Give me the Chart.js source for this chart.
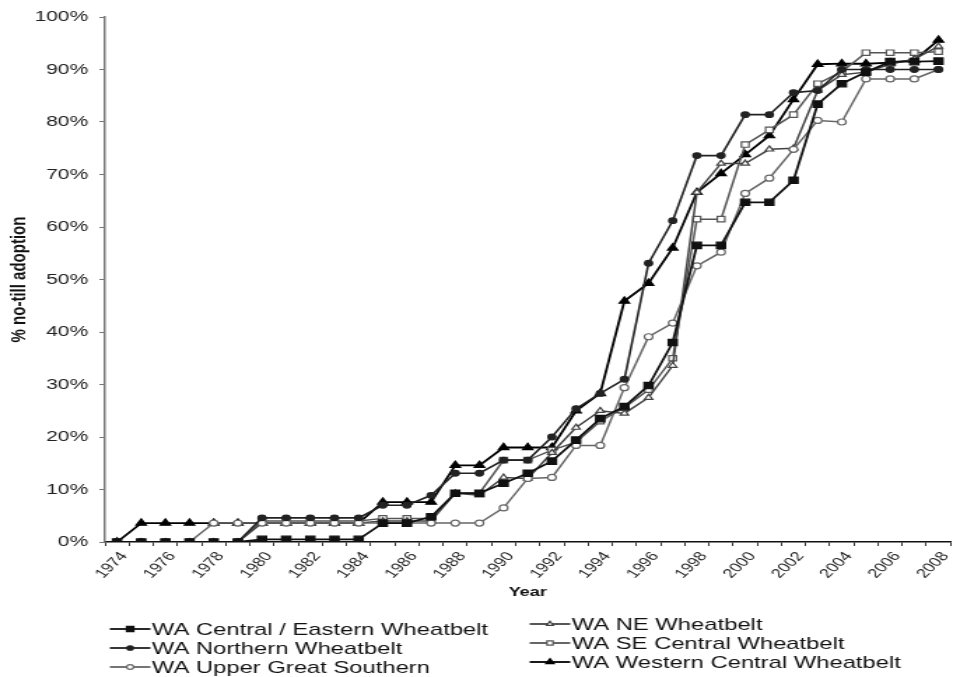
<!DOCTYPE html>
<html>
<head>
<meta charset="utf-8">
<script src="https://cdn.jsdelivr.net/npm/chart.js@4.4.1/dist/chart.umd.min.js"></script>
<style>
  html, body { margin: 0; padding: 0; background: #fff; overflow: hidden; }
  /* the scanned original is stretched sideways, so the chart is drawn narrow and widened */
  #wrap { width: 686px; height: 677px; transform: scaleX(1.3994); transform-origin: 0 0; }
</style>
</head>
<body>
<div id="wrap"><canvas id="chart-adoption"></canvas></div>
<script>
const years = ['1974', '1975', '1976', '1977', '1978', '1979', '1980', '1981', '1982', '1983', '1984',
  '1985', '1986', '1987', '1988', '1989', '1990', '1991', '1992', '1993', '1994', '1995', '1996',
  '1997', '1998', '1999', '2000', '2001', '2002', '2003', '2004', '2005', '2006', '2007', '2008'];

const yTicks = [0, 10, 20, 30, 40, 50, 60, 70, 80, 90, 100];

// % no-till adoption, 1974 - 2008
const centralEastern = [0, 0, 0, 0, 0, 0, 0.5, 0.5, 0.5, 0.5, 0.5, 3.6, 3.6, 4.8, 9.3, 9.3, 11.2, 13.1,
  15.4, 19.4, 23.5, 25.8, 29.8, 38, 56.5, 56.5, 64.7, 64.7, 68.9, 83.4, 87.3, 89.5, 91.5, 91.5, 91.6];
const northern = [0, 0, 0, 0, 0, 0, 4.6, 4.6, 4.6, 4.6, 4.6, 7.0, 7.0, 8.9, 13.1, 13.1, 15.6, 15.6,
  20, 25.4, 28.3, 31, 53.1, 61.2, 73.6, 73.6, 81.4, 81.4, 85.6, 86, 90, 90, 90, 90, 90];
const upperGreatSouthern = [0, 0, 0, 0, 3.6, 3.6, 3.6, 3.6, 3.6, 3.6, 3.6, 3.6, 3.6, 3.6, 3.6, 3.6, 6.5, 12.1,
  12.3, 18.4, 18.4, 29.4, 39.1, 41.7, 52.6, 55.2, 66.4, 69.3, 74.8, 80.3, 80, 88.2, 88.2, 88.2, 90];
const neWheatbelt = [0, 0, 0, 0, 0, 0, 3.6, 3.6, 3.6, 3.6, 3.6, 4.0, 4.0, 4.0, 9.3, 8.9, 12.3, 12.1,
  17, 21.8, 25, 24.5, 27.5, 33.6, 66.6, 72.1, 72.1, 74.8, 75, 86, 89, 89.5, 91, 92, 94.4];
const seCentral = [0, 0, 0, 0, 0, 0, 4.0, 4.0, 4.0, 4.0, 4.0, 4.5, 4.5, 4.5, 9.3, 9.3, 15.6, 15.6,
  17.5, 19, 23, 25.6, 29, 35, 61.5, 61.5, 75.7, 78.5, 81.4, 87.3, 89.6, 93.2, 93.2, 93.2, 93.4];
const westernCentral = [0, 3.6, 3.6, 3.6, 3.6, 3.6, 3.6, 3.6, 3.6, 3.6, 3.6, 7.6, 7.6, 7.6, 14.6, 14.6, 18, 18,
  18, 25, 28.3, 45.9, 49.3, 56, 66.6, 70.2, 73.8, 77.4, 84.3, 91, 91.1, 91.1, 91.3, 91.8, 95.6];

const seriesNames = ['WA Central / Eastern Wheatbelt', 'WA Northern Wheatbelt', 'WA Upper Great Southern',
  'WA NE Wheatbelt', 'WA SE Central Wheatbelt', 'WA Western Central Wheatbelt'];

const FONT = "'Liberation Sans', Arial, sans-serif";

const makeSeries = (label, data, line, style, radius, fill, width) => ({
  label,
  data,
  borderColor: line,
  borderWidth: width,
  tension: 0,
  pointStyle: style,
  pointRadius: radius,
  pointHoverRadius: radius,
  pointBackgroundColor: fill,
  pointBorderColor: line,
  pointBorderWidth: 1.2,
});

const drawMarker = (ctx, style, x, y, r, fill, stroke) => {
  ctx.beginPath();
  if (style === 'rect') {
    const s = r * Math.SQRT1_2;
    ctx.rect(x - s, y - s, 2 * s, 2 * s);
  } else if (style === 'triangle') {
    ctx.moveTo(x, y - r);
    ctx.lineTo(x + r * 0.866, y + r * 0.5);
    ctx.lineTo(x - r * 0.866, y + r * 0.5);
    ctx.closePath();
  } else {
    ctx.arc(x, y, r, 0, Math.PI * 2);
  }
  ctx.fillStyle = fill;
  ctx.fill();
  ctx.lineWidth = 1.2;
  ctx.strokeStyle = stroke;
  ctx.stroke();
};

// two-column legend under the axis, like the original
const columnLegend = {
  id: 'columnLegend',
  afterDraw(chart) {
    const ctx = chart.ctx;
    const spots = [
      [78.5, 629], [78.5, 648], [78.5, 667],
      [378.5, 624], [378.5, 643], [378.5, 662],
    ];
    ctx.save();
    chart.data.datasets.forEach((ds, i) => {
      const [x, y] = spots[i];
      ctx.beginPath();
      ctx.moveTo(x, y);
      ctx.lineTo(x + 29, y);
      ctx.lineWidth = 1.8;
      ctx.strokeStyle = ds.borderColor;
      ctx.stroke();
      drawMarker(ctx, ds.pointStyle, x + 14.5, y, ds.pointRadius * 0.8, ds.pointBackgroundColor, ds.pointBorderColor);
      ctx.fillStyle = '#111';
      ctx.font = `17px ${FONT}`;
      ctx.textBaseline = 'middle';
      ctx.textAlign = 'left';
      ctx.fillText(ds.label, x + 30, y + 1);
    });
    ctx.restore();
  },
};

const ctx = document.getElementById('chart-adoption').getContext('2d');

new Chart(ctx, {
  type: 'line',
  data: {
    labels: years,
    datasets: [
      makeSeries(seriesNames[0], centralEastern, '#111', 'rect', 4.5, '#111', 1.8),
      makeSeries(seriesNames[1], northern, '#222', 'circle', 2.8, '#222', 1.6),
      makeSeries(seriesNames[2], upperGreatSouthern, '#666', 'circle', 3, '#fff', 1.5),
      makeSeries(seriesNames[3], neWheatbelt, '#444', 'triangle', 3.4, '#fff', 1.5),
      makeSeries(seriesNames[4], seCentral, '#555', 'rect', 3.8, '#fff', 1.5),
      makeSeries(seriesNames[5], westernCentral, '#000', 'triangle', 4.2, '#000', 1.8),
    ],
  },
  options: {
    responsive: true,
    maintainAspectRatio: false,
    animation: false,
    events: [],
    layout: { padding: { top: 15, right: 5, left: 0, bottom: 0 } },
    plugins: {
      legend: { display: false },
      tooltip: { enabled: false },
    },
    scales: {
      x: {
        type: 'category',
        offset: true,
        afterFit: (scale) => { scale.height = 135; },
        border: { color: '#111', width: 1.5 },
        grid: { display: true, offset: true, drawOnChartArea: false, drawTicks: true, tickLength: 4, color: '#333' },
        ticks: {
          autoSkip: false,
          minRotation: 52,
          maxRotation: 52,
          padding: 3,
          labelOffset: 5,
          color: '#222',
          font: { family: FONT, size: 13 },
          callback: (value, index) => (index % 2 === 0 ? years[index] : ''),
        },
        title: {
          display: true,
          text: 'Year',
          color: '#111',
          font: { family: FONT, size: 13, weight: 'bold' },
          padding: { top: 0, bottom: 77 },
        },
      },
      y: {
        min: 0,
        max: 100,
        afterFit: (scale) => { scale.width = 75; },
        afterBuildTicks: (scale) => { scale.ticks = yTicks.map((v) => ({ value: v })); },
        border: { color: '#777', width: 1.5 },
        grid: { display: true, drawOnChartArea: false, drawTicks: true, tickLength: 4, color: '#777' },
        ticks: {
          padding: 8,
          color: '#222',
          font: { family: FONT, size: 15 },
          callback: (value) => `${value}%`,
        },
        title: {
          display: true,
          text: '% no-till adoption',
          color: '#111',
          font: { family: "'Liberation Sans Narrow', 'Arial Narrow', sans-serif", size: 15, weight: 'bold' },
          padding: { top: 5, bottom: 0 },
        },
      },
    },
  },
  plugins: [columnLegend],
});
</script>
</body>
</html>
